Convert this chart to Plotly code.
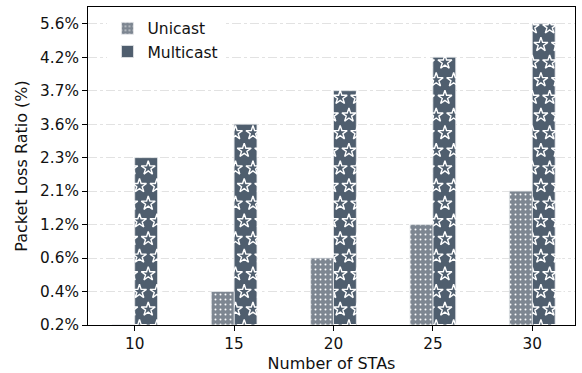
import math
import plotly.graph_objects as go

# Packet loss per number of stations
sta_counts = [10, 15, 20, 25, 30]
unicast_loss = [0.2, 0.4, 0.6, 1.2, 2.1]
multicast_loss = [2.3, 3.6, 3.7, 4.2, 5.6]

# Loss levels placed at even steps on the y axis
loss_levels = [0.2, 0.4, 0.6, 1.2, 2.1, 2.3, 3.6, 3.7, 4.2, 5.6]
loss_labels = [f"{v:.1f}%" for v in loss_levels]


def level_pos(v):
    return loss_levels.index(v)


uni_pos = [level_pos(v) for v in unicast_loss]
multi_pos = [level_pos(v) for v in multicast_loss]

BAR_W = 1.15
UNI_COLOR = "#7d8691"
MULTI_COLOR = "#4f5e6e"
EDGE_COLOR = "#e4e7ea"
FONT = "DejaVu Sans"

# Star hatch lattice (axis units), staggered rows
STAR_DX = 0.878
STAR_DY = 0.527
STAR_X0 = 10.68
STAR_Y0 = 4.686
STAR_REACH_X = 0.28
STAR_REACH_Y = 0.3

star_x, star_y = [], []
for x, top in zip(sta_counts, multi_pos):
    left, right = x, x + BAR_W
    j_lo = math.floor((-STAR_REACH_Y - STAR_Y0) / STAR_DY) - 1
    j_hi = math.ceil((top + STAR_REACH_Y - STAR_Y0) / STAR_DY) + 1
    for j in range(j_lo, j_hi + 1):
        yy = STAR_Y0 + j * STAR_DY
        if yy < -STAR_REACH_Y or yy > top + STAR_REACH_Y:
            continue
        shift = 0.5 * STAR_DX if j % 2 else 0.0
        k_lo = math.floor((left - STAR_REACH_X - STAR_X0 - shift) / STAR_DX) - 1
        k_hi = math.ceil((right + STAR_REACH_X - STAR_X0 - shift) / STAR_DX) + 1
        for k in range(k_lo, k_hi + 1):
            xx = STAR_X0 + shift + k * STAR_DX
            if left - STAR_REACH_X <= xx <= right + STAR_REACH_X:
                star_x.append(xx)
                star_y.append(yy)

fig = go.Figure()

fig.add_trace(go.Bar(
    name="Multicast",
    x=sta_counts,
    y=multi_pos,
    base=0,
    width=BAR_W,
    offset=0,
    marker=dict(color=MULTI_COLOR, line=dict(color=EDGE_COLOR, width=0.8)),
    legendrank=2,
    hoverinfo="skip",
    xaxis="x",
    yaxis="y",
))

fig.add_trace(go.Scatter(
    x=star_x,
    y=star_y,
    mode="markers",
    marker=dict(symbol="star-open", size=10.5, color="white",
                line=dict(width=1.4, color="white")),
    showlegend=False,
    hoverinfo="skip",
    xaxis="x",
    yaxis="y",
))

fig.add_trace(go.Bar(
    name="Unicast",
    x=sta_counts,
    y=uni_pos,
    base=0,
    width=BAR_W,
    offset=-BAR_W,
    marker=dict(
        color=UNI_COLOR,
        line=dict(color=EDGE_COLOR, width=0.8),
        pattern=dict(shape=".", fgcolor="white", bgcolor=UNI_COLOR,
                     size=5, solidity=0.12, fillmode="replace"),
    ),
    legendrank=1,
    hoverinfo="skip",
    xaxis="x",
    yaxis="y2",
))

fig.update_layout(
    width=582,
    height=373,
    margin=dict(l=88, r=7, t=7, b=48, autoexpand=False),
    paper_bgcolor="white",
    plot_bgcolor="white",
    barmode="overlay",
    font=dict(family=FONT, size=15, color="#111111"),
    showlegend=True,
    legend=dict(
        x=0.04, y=0.985, xanchor="left", yanchor="top",
        bgcolor="white", borderwidth=0,
        font=dict(family=FONT, size=15.5),
        itemwidth=30, tracegroupgap=0,
    ),
    xaxis=dict(
        range=[7.65, 32.15],
        tickvals=sta_counts,
        ticks="outside", ticklen=5, tickwidth=1, tickcolor="black",
        tickfont=dict(size=15.3),
        showline=True, linecolor="black", linewidth=1, mirror=True,
        showgrid=False, zeroline=False, automargin=False,
        title=dict(text="Number of STAs", standoff=6, font=dict(size=16)),
    ),
    yaxis=dict(
        range=[0, 9.5],
        tickvals=list(range(len(loss_levels))),
        ticktext=loss_labels,
        ticks="outside", ticklen=5, tickwidth=1, tickcolor="black",
        tickfont=dict(size=15.3),
        showline=True, linecolor="black", linewidth=1, mirror=True,
        showgrid=True, gridcolor="#e2e2e2", gridwidth=1, griddash="dashdot",
        zeroline=False, automargin=False,
        title=dict(text="Packet Loss Ratio (%)", standoff=8, font=dict(size=16)),
    ),
    yaxis2=dict(
        range=[0, 9.5],
        overlaying="y",
        visible=False,
    ),
)

fig.write_html("out.html")
